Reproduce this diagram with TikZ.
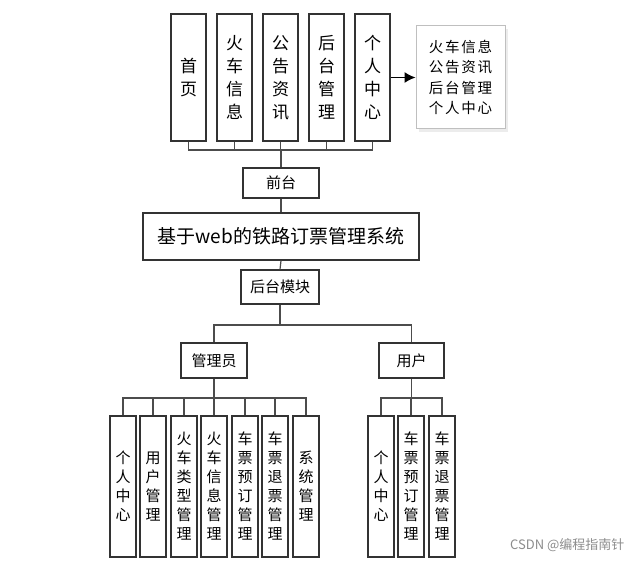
\documentclass[tikz,border=0pt]{standalone}
\usepackage{fontspec}
\setmainfont{Noto Sans CJK SC}
\usetikzlibrary{arrows.meta,shadows}
\begin{document}
\begin{tikzpicture}[x=1pt,y=-1pt,
  bx/.style={draw=black!80,line width=1.2pt,inner sep=0pt,align=center},
  ln/.style={draw=black!70,line width=1.2pt},
  big/.style={font=\fontsize{17}{23}\selectfont},
  sm/.style={font=\fontsize{15}{19}\selectfont}]
\useasboundingbox (0,0) rectangle (639,564);
% top
\foreach \n/\x/\t in {t1/188.5/首\\页, t2/234.5/火\\车\\信\\息, t3/280.5/公\\告\\资\\讯, t4/326.5/后\\台\\管\\理, t5/372.5/个\\人\\中\\心}
  \node[bx,big,minimum width=35pt,minimum height=127pt] (\n) at (\x,77.5) {\t};
\node[draw=black!25,line width=1pt,fill=white,inner sep=0pt,minimum width=89pt,minimum height=103pt,align=left,
  font=\fontsize{14.5}{20.5}\selectfont\addfontfeature{LetterSpace=12},drop shadow={opacity=0.15}] (info) at (460.5,77.5) {火车信息\\公告资讯\\后台管理\\个人中心};
\draw[line width=1.3pt,-{Latex[length=11pt,width=11pt]}] (t5.east) -- (info.west);
\node[bx,sm,minimum width=76pt,minimum height=30pt] (qt) at (281,183) {前台};
\node[bx,font=\fontsize{19}{22}\selectfont,minimum width=276pt,minimum height=47pt] (sys) at (281,236.5) {基于web的铁路订票管理系统};
\node[bx,sm,minimum width=78pt,minimum height=34pt] (ht) at (280,287) {后台模块};
\node[bx,sm,minimum width=66pt,minimum height=35pt] (adm) at (214,360.5) {管理员};
\node[bx,sm,minimum width=65pt,minimum height=35pt] (usr) at (411.5,360.5) {用户};
\coordinate (bus) at (281,150);
\foreach \n in {t1,t2,t3,t4,t5} \draw[ln] (\n.south) |- (bus);
\draw[ln] (bus) -- (qt.north);
\draw[ln] (qt.south) -- (sys.north);
\draw[ln] (sys.south) -- (ht.north);
\coordinate (b2) at (280,325);
\draw[ln] (ht.south) -- (b2);
\draw[ln] (adm.north) |- (b2) -| (usr.north);
% admin
\coordinate (b3) at (214,398);
\draw[ln] (adm.south) -- (b3);
\foreach \n/\x/\t in {a1/123/个\\人\\中\\心, a2/153/用\\户\\管\\理, a3/184/火\\车\\类\\型\\管\\理, a4/214/火\\车\\信\\息\\管\\理, a5/245/车\\票\\预\\订\\管\\理, a6/275/车\\票\\退\\票\\管\\理, a7/306/系\\统\\管\\理}{
  \node[bx,sm,minimum width=26pt,minimum height=141pt] (\n) at (\x,486.5) {\t};
  \draw[ln] (\n.north) |- (b3);}
\coordinate (b4) at (411.5,398);
\draw[ln] (usr.south) -- (b4);
\foreach \n/\x/\t in {u1/381/个\\人\\中\\心, u2/411/车\\票\\预\\订\\管\\理, u3/442/车\\票\\退\\票\\管\\理}{
  \node[bx,sm,minimum width=26pt,minimum height=141pt] (\n) at (\x,486.5) {\t};
  \draw[ln] (\n.north) |- (b4);}
\node[text=black!45,font=\fontsize{13}{15}\selectfont,anchor=east] (wm) at (628,545) {CSDN @编程指南针};
\end{tikzpicture}
\end{document}
